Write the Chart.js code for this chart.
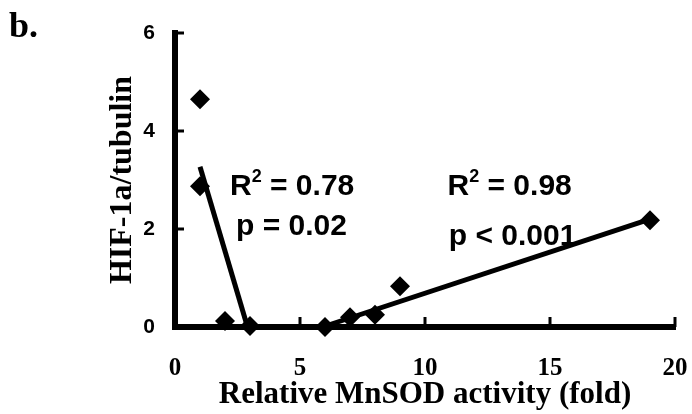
<!DOCTYPE html>
<html>
<head>
<meta charset="utf-8">
<script src="https://cdn.jsdelivr.net/npm/chart.js@4.4.1/dist/chart.umd.min.js"></script>
<style>
  html, body { margin: 0; padding: 0; background: #fff; }
  #wrap { width: 692px; height: 414px; }
</style>
</head>
<body>
<div id="wrap"><canvas id="chart"></canvas></div>
<script>
// measured points
const mnsodActivity = [1, 1, 2, 3, 6, 7, 8, 9, 19];
const hifRatio = [4.65, 2.87, 0.12, 0.02, 0.0, 0.2, 0.25, 0.83, 2.18];

// regression lines (end points)
const fitLowX = [1, 2.9];
const fitLowY = [3.27, 0];
const fitHighX = [5.9, 19];
const fitHighY = [0, 2.2];

const xTicks = [0, 5, 10, 15, 20];
const yTicks = [0, 2, 4, 6];

const fitStats = [
    { r2: '0.78', p: 'p = 0.02', at: [2.2, 2.69], pAt: [2.44, 1.88] },
    { r2: '0.98', p: 'p < 0.001', at: [10.9, 2.69], pAt: [10.95, 1.67] }
];

const toXY = (xs, ys) => xs.map((x, i) => ({ x: x, y: ys[i] }));

const serif = '"Liberation Serif", "Times New Roman", serif';
const sans = '"Liberation Sans", Arial, sans-serif';

// inward tick marks, regression stats, panel letter
const extras = {
    id: 'extras',
    afterDraw(chart) {
        const { ctx, scales: { x, y } } = chart;
        ctx.save();
        ctx.strokeStyle = '#000';
        ctx.lineWidth = 3;
        yTicks.slice(1).forEach(v => {
            const py = y.getPixelForValue(v);
            ctx.beginPath();
            ctx.moveTo(x.left, py);
            ctx.lineTo(x.left + 9, py);
            ctx.stroke();
        });
        xTicks.slice(1).forEach(v => {
            const px = x.getPixelForValue(v);
            ctx.beginPath();
            ctx.moveTo(px, y.bottom);
            ctx.lineTo(px, y.bottom - 10);
            ctx.stroke();
        });

        ctx.fillStyle = '#000';
        ctx.textBaseline = 'alphabetic';
        ctx.textAlign = 'left';
        fitStats.forEach(s => {
            let px = x.getPixelForValue(s.at[0]);
            const py = y.getPixelForValue(s.at[1]);
            ctx.font = 'bold 30px ' + sans;
            ctx.fillText('R', px, py);
            px += ctx.measureText('R').width;
            ctx.font = 'bold 18px ' + sans;
            ctx.fillText('2', px, py - 13);
            px += ctx.measureText('2').width;
            ctx.font = 'bold 30px ' + sans;
            ctx.fillText(' = ' + s.r2, px, py);
            ctx.fillText(s.p, x.getPixelForValue(s.pAt[0]), y.getPixelForValue(s.pAt[1]));
        });

        ctx.font = 'bold 36px ' + serif;
        ctx.fillText('b.', 9, 37);
        ctx.restore();
    }
};

new Chart(document.getElementById('chart'), {
    type: 'scatter',
    data: {
        datasets: [
            {
                data: toXY(mnsodActivity, hifRatio),
                pointStyle: 'rectRot',
                pointRadius: 10,
                backgroundColor: '#000',
                borderWidth: 0,
                clip: false
            },
            {
                data: toXY(fitLowX, fitLowY),
                showLine: true,
                borderColor: '#000',
                borderWidth: 5,
                pointRadius: 0,
                clip: false
            },
            {
                data: toXY(fitHighX, fitHighY),
                showLine: true,
                borderColor: '#000',
                borderWidth: 5,
                pointRadius: 0,
                clip: false
            }
        ]
    },
    options: {
        responsive: true,
        maintainAspectRatio: false,
        animation: false,
        devicePixelRatio: 1,
        layout: { padding: { left: 0, right: 17, top: 33, bottom: 0 } },
        plugins: { legend: { display: false }, tooltip: { enabled: false } },
        scales: {
            x: {
                type: 'linear',
                min: 0,
                max: 20,
                afterBuildTicks: s => { s.ticks = xTicks.map(v => ({ value: v })); },
                afterFit: s => { s.height = 87; s.paddingLeft = 0; s.paddingRight = 0; },
                grid: { display: false, drawTicks: false },
                border: { color: '#000', width: 6 },
                ticks: { color: '#000', padding: 27, font: { family: serif, size: 25, weight: 'bold' } },
                title: {
                    display: true,
                    text: 'Relative MnSOD activity (fold)',
                    color: '#000',
                    font: { family: serif, size: 31, weight: 'bold' },
                    padding: { top: 0, bottom: 0 }
                }
            },
            y: {
                type: 'linear',
                min: 0,
                max: 6,
                afterBuildTicks: s => { s.ticks = yTicks.map(v => ({ value: v })); },
                afterFit: s => { s.width = 175; s.paddingTop = 0; s.paddingBottom = 0; },
                grid: { display: false, drawTicks: false },
                border: { color: '#000', width: 6 },
                ticks: { color: '#000', padding: 20, font: { family: sans, size: 21, weight: 'bold' } },
                title: {
                    display: true,
                    text: 'HIF-1a/tubulin',
                    color: '#000',
                    font: { family: serif, size: 32, weight: 'bold' },
                    padding: { top: 104, bottom: 0 }
                }
            }
        }
    },
    plugins: [extras]
});
</script>
</body>
</html>
